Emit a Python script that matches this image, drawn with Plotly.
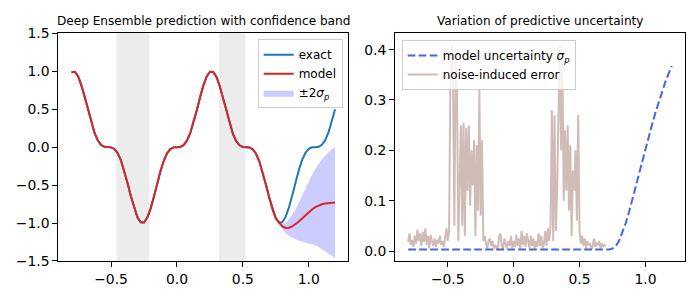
import numpy as np
import plotly.graph_objects as go

# ---------------- data ----------------
x_grid = np.round(np.linspace(-0.8, 1.2, 81), 3)

exact_y = [
    0.988, 0.994, 0.934, 0.813, 0.662, 0.491, 0.325, 0.187, 0.087, 0.028,
    0.004, 0.000, -0.003, -0.024, -0.078, -0.173, -0.308, -0.471, -0.643, -0.802,
    -0.924, -0.991, -0.993, -0.929, -0.810, -0.653, -0.481, -0.317, -0.180, -0.082,
    -0.026, -0.003, 0.000, 0.003, 0.026, 0.082, 0.180, 0.317, 0.481, 0.653,
    0.810, 0.929, 0.993, 0.991, 0.924, 0.802, 0.643, 0.471, 0.308, 0.173,
    0.078, 0.024, 0.003, 0.000, -0.004, -0.028, -0.087, -0.187, -0.325, -0.491,
    -0.662, -0.813, -0.934, -0.994, -0.988, -0.916, -0.794, -0.634, -0.462, -0.301,
    -0.167, -0.074, -0.022, -0.002, 0.000, 0.005, 0.030, 0.091, 0.194, 0.331,
    0.500,
]

model_y = [
    0.988, 0.994, 0.934, 0.813, 0.662, 0.491, 0.325, 0.187, 0.087, 0.028,
    0.004, 0.000, -0.003, -0.024, -0.078, -0.173, -0.308, -0.471, -0.643, -0.802,
    -0.924, -0.991, -0.993, -0.929, -0.810, -0.653, -0.481, -0.317, -0.180, -0.082,
    -0.026, -0.003, 0.000, 0.003, 0.026, 0.082, 0.180, 0.317, 0.481, 0.653,
    0.810, 0.929, 0.993, 0.991, 0.924, 0.802, 0.643, 0.471, 0.308, 0.173,
    0.078, 0.024, 0.003, 0.000, -0.004, -0.028, -0.087, -0.187, -0.325, -0.491,
    -0.662, -0.820, -0.940, -1.000, -1.045, -1.065, -1.062, -1.045, -1.015, -0.980,
    -0.940, -0.897, -0.857, -0.821, -0.790, -0.768, -0.752, -0.742, -0.736, -0.732,
    -0.730,
]

sigma_p = [
    0.003, 0.003, 0.003, 0.003, 0.003, 0.003, 0.003, 0.003, 0.003, 0.003,
    0.003, 0.003, 0.003, 0.003, 0.003, 0.003, 0.003, 0.003, 0.003, 0.003,
    0.003, 0.003, 0.003, 0.003, 0.003, 0.003, 0.003, 0.003, 0.003, 0.003,
    0.003, 0.003, 0.003, 0.003, 0.003, 0.003, 0.003, 0.003, 0.003, 0.003,
    0.003, 0.003, 0.003, 0.003, 0.003, 0.003, 0.003, 0.003, 0.003, 0.003,
    0.003, 0.003, 0.003, 0.003, 0.003, 0.003, 0.003, 0.003, 0.003, 0.003,
    0.003, 0.003, 0.005, 0.010, 0.020, 0.036, 0.055, 0.077, 0.100, 0.126,
    0.152, 0.178, 0.204, 0.228, 0.251, 0.274, 0.296, 0.316, 0.335, 0.352,
    0.367,
]

noise_err = [
    # -0.80 .. -0.51
    0.018, 0.035, 0.012, 0.022, 0.008, 0.030, 0.015, 0.042, 0.020, 0.035,
    0.010, 0.038, 0.018, 0.045, 0.012, 0.030, 0.005, 0.032, 0.020, 0.010,
    0.025, 0.008, 0.022, 0.015, 0.030, 0.012, 0.020, 0.008, 0.025, 0.045,
    # -0.50 .. -0.23
    0.020, 0.040, 0.340, 0.410, 0.340, 0.050, 0.380, 0.330, 0.020, 0.150,
    0.250, 0.050, 0.255, 0.030, 0.245, 0.120, 0.250, 0.090, 0.200, 0.130,
    0.220, 0.030, 0.210, 0.080, 0.320, 0.070, 0.220, 0.020,
    # -0.22 .. 0.27
    0.030, 0.015, 0.005, 0.020, 0.025, 0.010, 0.020, 0.003, 0.012, 0.008,
    0.002, 0.030, 0.035, 0.010, 0.002, 0.025, 0.015, 0.005, 0.020, 0.010,
    0.030, 0.005, 0.020, 0.008, 0.032, 0.010, 0.025, 0.005, 0.040, 0.012,
    0.030, 0.008, 0.035, 0.015, 0.005, 0.030, 0.010, 0.025, 0.005, 0.020,
    0.008, 0.035, 0.010, 0.030, 0.005, 0.015, 0.040, 0.010, 0.045, 0.020,
    # 0.28 .. 0.51
    0.050, 0.280, 0.020, 0.270, 0.040, 0.120, 0.290, 0.410, 0.200, 0.380,
    0.100, 0.240, 0.120, 0.250, 0.080, 0.210, 0.030, 0.160, 0.120, 0.200,
    0.060, 0.270, 0.040, 0.015,
    # 0.52 .. 0.70
    0.030, 0.010, 0.025, 0.005, 0.020, 0.012, 0.015, 0.003, 0.010, 0.025,
    0.008, 0.015, 0.012, 0.020, 0.005, 0.015, 0.008, 0.012, 0.010,
]
noise_x = np.round(np.linspace(-0.8, 0.7, len(noise_err)), 3)

gap_regions = [(-0.46, -0.21), (0.32, 0.52)]

left_title = "Deep Ensemble prediction with confidence band"
right_title = "Variation of predictive uncertainty"

# ---------------- figure ----------------
FONT = "DejaVu Sans"
model_arr = np.array(model_y)
sig_arr = np.array(sigma_p)
upper = model_arr + 2 * sig_arr
lower = model_arr - 2 * sig_arr

fig = go.Figure()

fig.add_trace(go.Scatter(x=x_grid, y=lower, mode="lines", line=dict(width=0),
                         showlegend=False, hoverinfo="skip", xaxis="x", yaxis="y"))
fig.add_trace(go.Scatter(x=x_grid, y=upper, mode="lines", line=dict(width=0),
                         fill="tonexty", fillcolor="rgba(0,0,255,0.2)",
                         name="±2<i>σ</i><sub><i>p</i></sub>", legend="legend",
                         legendrank=3, xaxis="x", yaxis="y"))
fig.add_trace(go.Scatter(x=x_grid, y=exact_y, mode="lines",
                         line=dict(color="#1f77b4", width=2),
                         name="exact", legend="legend", legendrank=1,
                         xaxis="x", yaxis="y"))
fig.add_trace(go.Scatter(x=x_grid, y=model_y, mode="lines",
                         line=dict(color="#d62728", width=2),
                         name="model", legend="legend", legendrank=2,
                         xaxis="x", yaxis="y"))

fig.add_trace(go.Scatter(x=x_grid, y=sigma_p, mode="lines",
                         line=dict(color="#4169E1", width=2, dash="7.7px,3.3px"),
                         name="model uncertainty <i>σ</i><sub><i>p</i></sub>",
                         legend="legend2", legendrank=1, xaxis="x2", yaxis="y2"))
fig.add_trace(go.Scatter(x=noise_x, y=noise_err, mode="lines",
                         line=dict(color="rgba(140,86,75,0.4)", width=2),
                         name="noise-induced error",
                         legend="legend2", legendrank=2, xaxis="x2", yaxis="y2"))

shapes = []
for a, b in gap_regions:
    shapes.append(dict(type="rect", xref="x", yref="y domain", x0=a, x1=b, y0=0, y1=1,
                       fillcolor="rgba(128,128,128,0.15)", line=dict(width=0),
                       layer="below"))

axis_common = dict(showline=True, linecolor="black", linewidth=1, mirror=True,
                   ticks="outside", ticklen=5, tickwidth=1, tickcolor="black",
                   showgrid=False, zeroline=False, automargin=False,
                   tickfont=dict(family=FONT, size=13.9, color="black"))

# page body has an 8px margin, so figure coordinates are screen coordinates - 8px
xd1 = [0.0719, 0.4861]
xd2 = [0.5529, 0.9671]
yd = [0.1567, 0.9157]
legend_common = dict(bgcolor="rgba(255,255,255,0.8)", bordercolor="#cccccc", borderwidth=1,
                     font=dict(family=FONT, size=12, color="black"),
                     tracegroupgap=0, itemwidth=30, traceorder="normal")
fig.update_layout(
    width=700, height=300,
    margin=dict(l=0, r=0, t=0, b=0, autoexpand=False),
    paper_bgcolor="white", plot_bgcolor="white",
    font=dict(family=FONT, color="black"),
    shapes=shapes,
    xaxis=dict(domain=xd1, range=[-0.9, 1.3], tickvals=[-0.5, 0, 0.5, 1.0],
               tickformat=".1f", anchor="y", **axis_common),
    yaxis=dict(domain=yd, range=[-1.5, 1.5], tickvals=[-1.5, -1.0, -0.5, 0, 0.5, 1.0, 1.5],
               tickformat=".1f", anchor="x", **axis_common),
    xaxis2=dict(domain=xd2, range=[-0.9, 1.3], tickvals=[-0.5, 0, 0.5, 1.0],
                tickformat=".1f", anchor="y2", **axis_common),
    yaxis2=dict(domain=yd, range=[-0.0198, 0.4325], tickvals=[0, 0.1, 0.2, 0.3, 0.4],
                tickformat=".1f", anchor="x2", **axis_common),
    legend=dict(x=0.4781, y=0.8957, xanchor="right", yanchor="top", **legend_common),
    legend2=dict(x=0.5624, y=0.8933, xanchor="left", yanchor="top", **legend_common),
    annotations=[
        dict(text=left_title, xref="paper", yref="paper", x=sum(xd1) / 2,
             y=0.9567, xanchor="center", yanchor="middle", showarrow=False,
             font=dict(family=FONT, size=12.1, color="black")),
        dict(text=right_title, xref="paper", yref="paper", x=sum(xd2) / 2,
             y=0.9567, xanchor="center", yanchor="middle", showarrow=False,
             font=dict(family=FONT, size=12.1, color="black")),
    ],
)

fig.write_html("out.html")
